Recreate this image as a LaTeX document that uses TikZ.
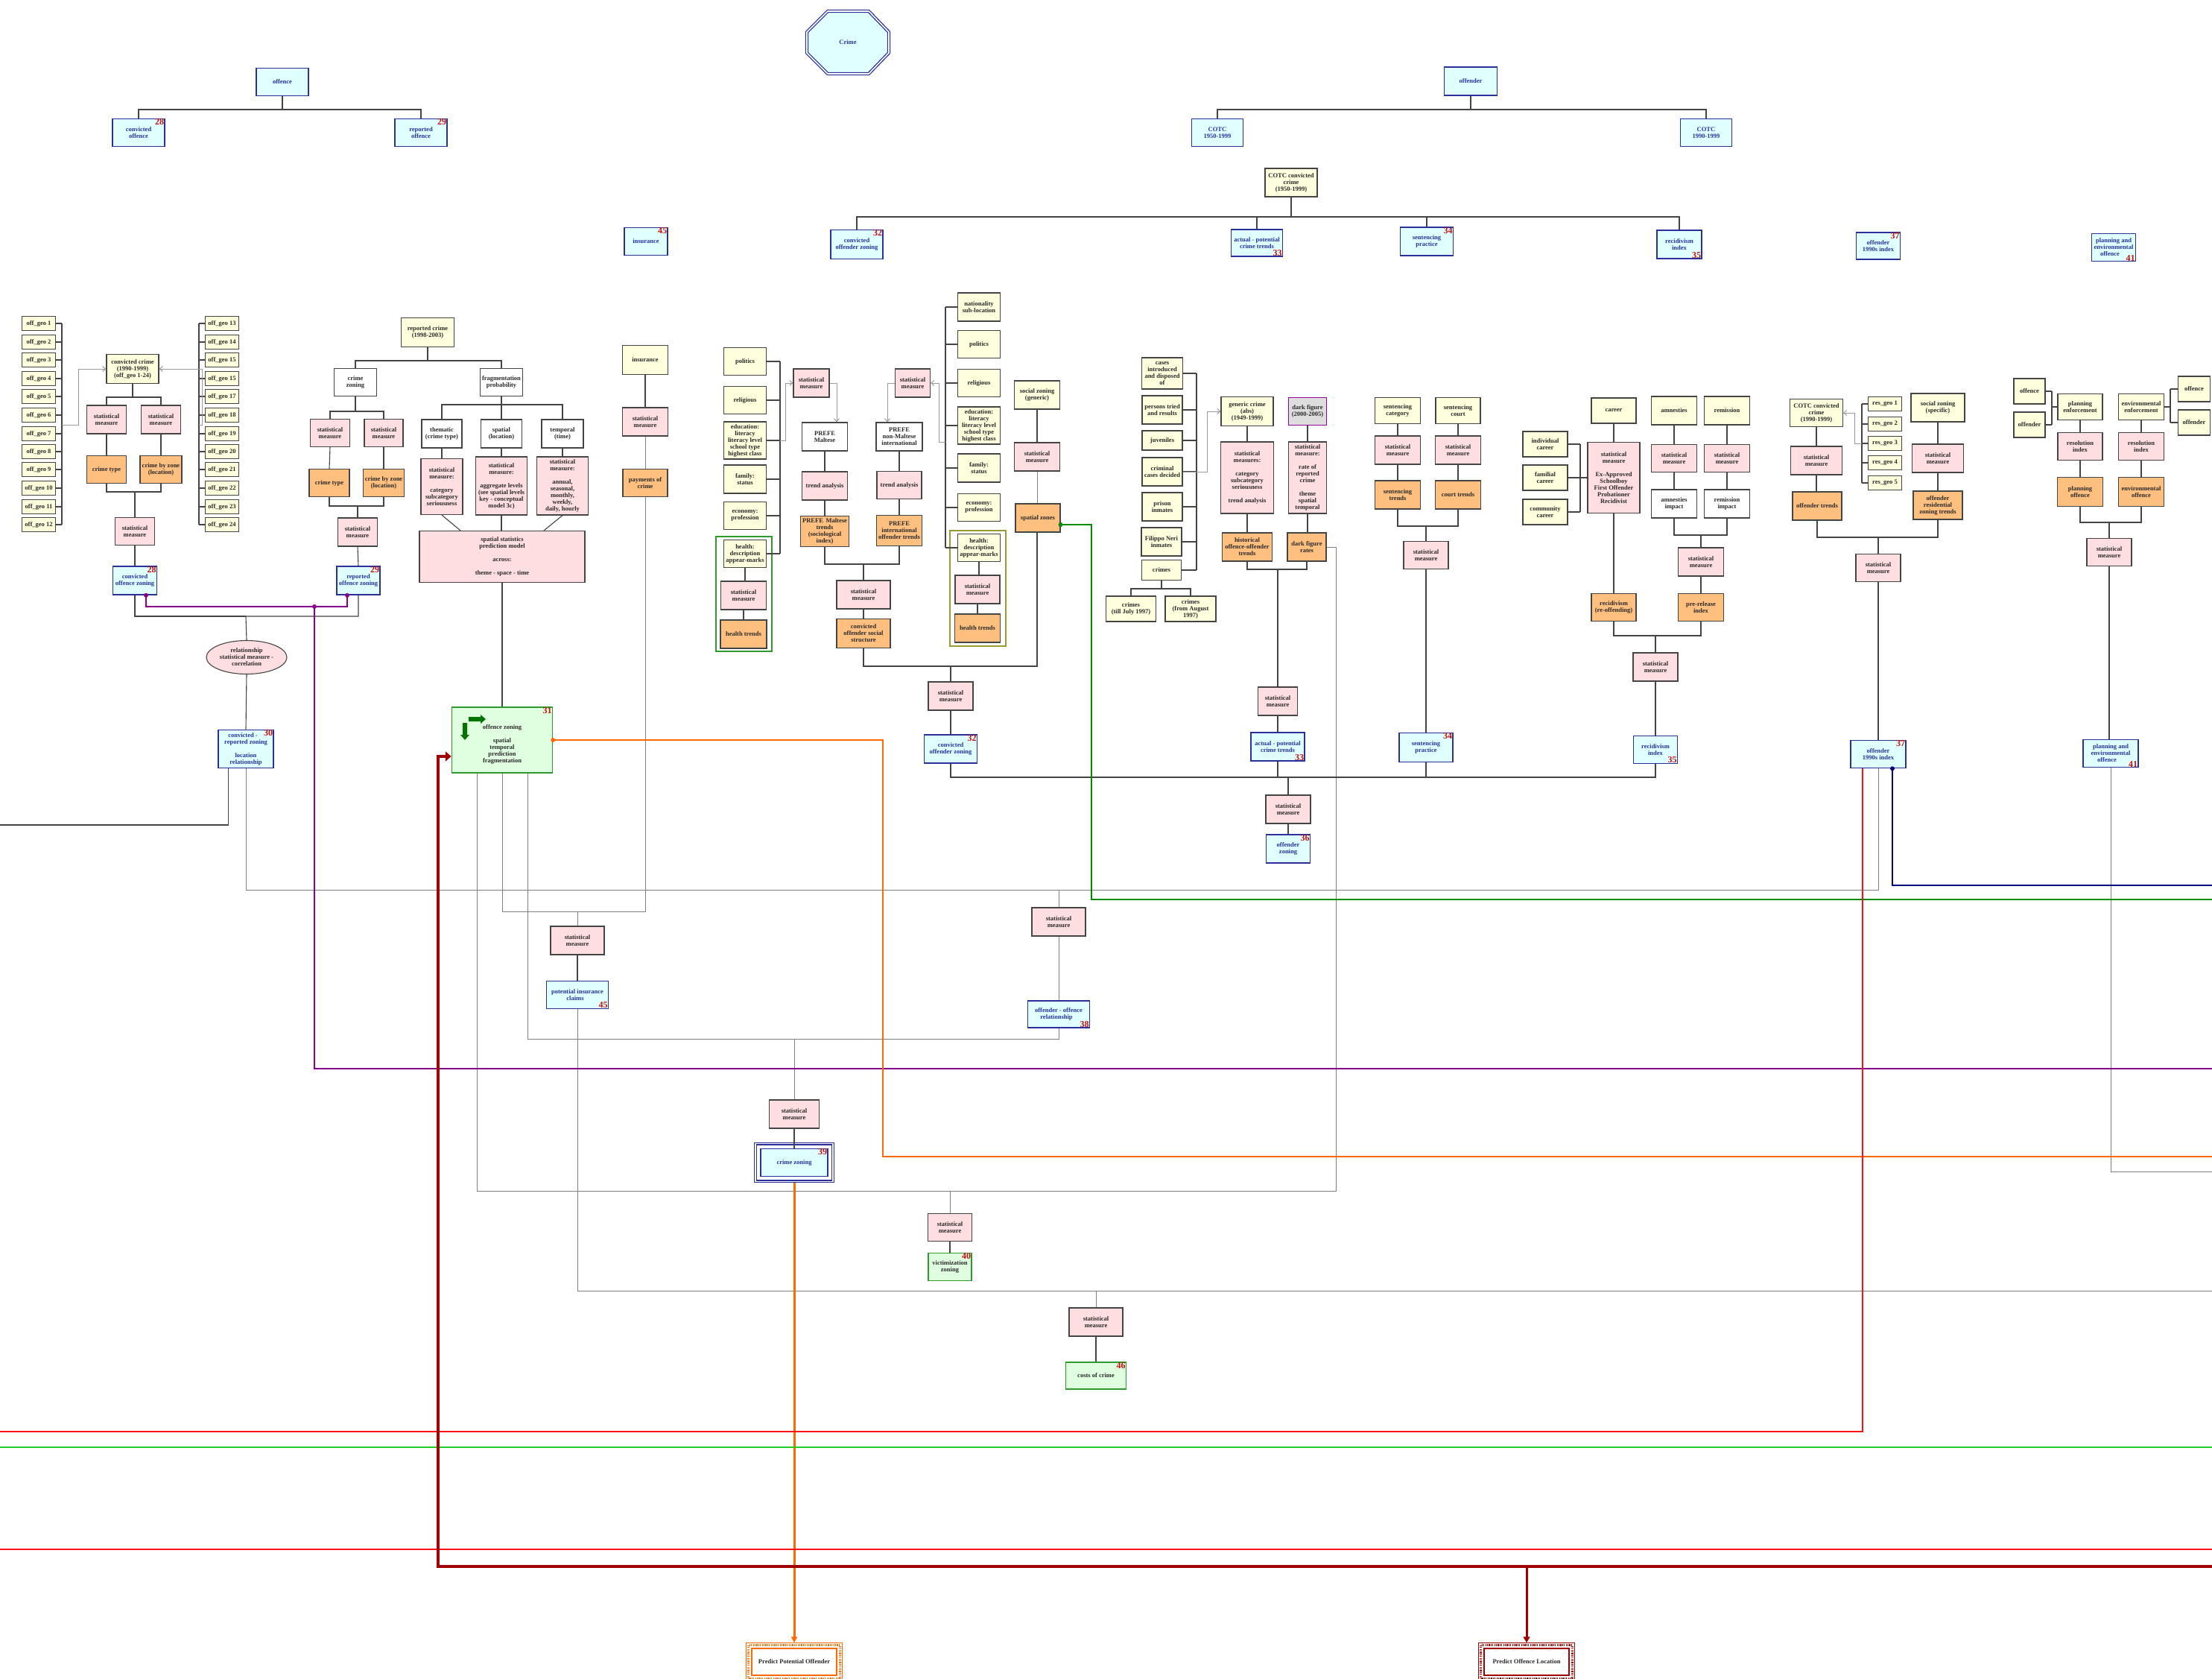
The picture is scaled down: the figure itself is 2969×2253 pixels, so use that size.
\documentclass[tikz,border=0pt]{standalone}
\usepackage{fontspec}
\setmainfont{Liberation Serif}
\usetikzlibrary{calc,arrows.meta,shapes.geometric}
\definecolor{BRD}{HTML}{444444}
\definecolor{TXT}{HTML}{2A2A2A}
\definecolor{YEL}{HTML}{FFFFDD}
\definecolor{PNK}{HTML}{FFDEE1}
\definecolor{ORGF}{HTML}{FFBF7F}
\definecolor{CYF}{HTML}{E0FFFF}
\definecolor{BLB}{HTML}{2A2F9A}
\definecolor{BLT}{HTML}{2433A0}
\definecolor{GRF}{HTML}{E0FFE0}
\definecolor{GRB}{HTML}{2E9A2E}
\definecolor{NUMC}{HTML}{C41010}
\definecolor{CON}{HTML}{444444}
\definecolor{LCON}{HTML}{808080}
\definecolor{GARR}{HTML}{9A9A9A}
\definecolor{PUR}{HTML}{8B008B}
\definecolor{GRL}{HTML}{008A00}
\definecolor{ORL}{HTML}{FF6A00}
\definecolor{DRD}{HTML}{A00000}
\definecolor{REDL}{HTML}{FF1010}
\definecolor{NAV}{HTML}{000080}
\definecolor{GRL2}{HTML}{22CC22}
\definecolor{OLV}{HTML}{9A9A33}
\definecolor{DFG}{HTML}{DDDDDD}
\definecolor{PURB}{HTML}{990099}
\newcommand\fs{\fontsize{8.5}{9}\selectfont\bfseries}
\newcommand\numfs{\fontsize{12}{12}\selectfont\bfseries}
\newcommand\stm{statistical\\measure}
\newcommand\ntr[3]{\node[num, anchor=north east, xshift=-1pt, yshift=-0.5pt] (#1) at (#2.north east) {#3};}
\newcommand\nbr[3]{\node[num, anchor=south east, xshift=-1pt, yshift=0.5pt] (#1) at (#2.south east) {#3};}
\begin{document}
\begin{tikzpicture}[x=1pt,y=-1pt,
 box/.style={draw=BRD, line width=1.2pt, align=center, font=\fs, inner sep=1pt, text=TXT},
 yel/.style={box, fill=YEL},
 pnk/.style={box, fill=PNK},
 org/.style={box, fill=ORGF},
 wht/.style={box, fill=white},
 blu/.style={box, fill=CYF, draw=BLB, line width=1.6pt, text=BLT},
 grn/.style={box, fill=GRF, draw=GRB, line width=1.5pt},
 sz/.style 2 args={minimum width=#1pt, minimum height=#2pt},
 num/.style={font=\numfs, text=NUMC, inner sep=0.5pt},
 conn/.style={draw=CON, line width=1.1pt},
 lconn/.style={draw=LCON, line width=1pt},
 garr/.style={draw=GARR, line width=1pt, -{Straight Barb[length=4pt,width=7pt]}},
]
\useasboundingbox (0,0) rectangle (2969,2253);
\fill[white] (0,0) rectangle (2969,2253);

% ---------------- top ----------------
\path[fill=CYF, draw=BLB, double=white, double distance=1.6pt, line width=1.3pt]
 (1111,15) -- (1166,15) -- (1193,43) -- (1193,71) -- (1166,99) -- (1111,99) -- (1083,71) -- (1083,43) -- cycle;
\node[font=\fs, text=BLT] (crime) at (1138,57) {Crime};

\node[blu, sz={70}{37}] (offence) at (379,110) {offence};
\node[blu, sz={70}{37}] (b28t) at (186,178) {convicted\\offence}; \ntr{n28t}{b28t}{28}
\node[blu, sz={70}{37}] (b29t) at (565,178) {reported\\offence}; \ntr{n29t}{b29t}{29}
\coordinate (jo) at (379,147);
\draw[conn] (offence.south) -- (jo) -| (b28t.north);
\draw[conn] (jo) -| (b29t.north);

\node[blu, sz={71}{38}] (offender) at (1974,109) {offender};
\node[blu, sz={69}{37}] (cotc1) at (1634,178) {COTC\\1950-1999};
\node[blu, sz={69}{37}] (cotc2) at (2290,178) {COTC\\1990-1999};
\coordinate (jof) at (1974,147);
\draw[conn] (offender.south) -- (jof) -| (cotc1.north);
\draw[conn] (jof) -| (cotc2.north);

\node[yel, sz={70}{38}] (cotcc) at (1733,245) {COTC convicted\\crime\\(1950-1999)};
\node[blu, sz={58}{37}] (b45t) at (867,324) {insurance}; \ntr{n45t}{b45t}{45}
\node[blu, sz={70}{39}] (b32t) at (1150,328) {convicted\\offender zoning}; \ntr{n32t}{b32t}{32}
\node[blu, sz={69}{36}] (b33t) at (1687,326) {actual - potential\\crime trends}; \nbr{n33t}{b33t}{33}
\node[blu, sz={71}{38}] (b34t) at (1915,324) {sentencing\\practice}; \ntr{n34t}{b34t}{34}
\node[blu, sz={60}{38}] (b35t) at (2254,328) {recidivism\\index}; \nbr{n35t}{b35t}{35}
\node[blu, sz={59}{36}] (b37t) at (2521,330) {offender\\1990s index}; \ntr{n37t}{b37t}{37}
\node[blu, sz={59}{37}] (b41t) at (2837,332) {planning and\\environmental\\offence\hspace*{10pt}}; \nbr{n41t}{b41t}{41}
\coordinate (jcc) at (1733,291);
\draw[conn] (cotcc.south) -- (jcc) -| (b32t.north);
\draw[conn] (jcc) -| (b33t.north);
\draw[conn] (jcc) -| (b34t.north);
\draw[conn] (jcc) -| (b35t.north);

% ---------------- left panel ----------------
\coordinate (lbt) at (83,434); \coordinate (lbb) at (83,704);
\coordinate (rbt) at (267,434); \coordinate (rbb) at (267,704);
\draw[conn] (lbt) -- (lbb);
\draw[conn] (rbt) -- (rbb);
\foreach \i/\y in {1/434,2/459,3/483,4/508,5/532,6/557,7/582,8/606,9/630,10/655,11/680,12/704}{
 \node[yel, sz={45}{19}] (og\i) at (52,\y) {off\_geo \i};
 \draw[conn] (og\i.east) -- (og\i.east -| lbt);
}
\foreach \i/\y/\l in {13/434/13,14/459/14,15/483/15,16/508/15,17/532/17,18/557/18,19/582/19,20/606/20,21/630/21,22/655/22,23/680/23,24/704/24}{
 \node[yel, sz={45}{19}] (og\i) at (298,\y) {off\_geo \l};
 \draw[conn] (og\i.west) -- (og\i.west -| rbt);
}
\node[yel, sz={70}{39}] (cc) at (178,495) {convicted crime\\(1990-1999)\\(off\_geo 1-24)};
\coordinate (la1) at (83,570); \coordinate (ra1) at (267,570);
\draw[garr] (la1) -| ($(cc.west)+(-37,0)$) -- (cc.west);
\draw[garr] (ra1) -| ($(cc.east)+(58,0)$) -- (cc.east);
\node[pnk, sz={53}{38}] (sm1) at (143,563) {\stm};
\node[pnk, sz={53}{38}] (sm2) at (216,563) {\stm};
\node[org, sz={53}{37}] (ct1) at (143,630) {crime type};
\node[org, sz={56}{37}] (cz1) at (216,630) {crime by zone\\(location)};
\node[pnk, sz={53}{37}] (sm3) at (181,713) {\stm};
\node[blu, sz={59}{38}] (b28l) at (181,779) {convicted\\offence zoning}; \ntr{n28l}{b28l}{28}
\coordinate (j1) at (178,533);
\draw[conn] (cc.south) -- (j1) -| (sm1.north);
\draw[conn] (j1) -| (sm2.north);
\draw[conn] (sm1.south) -- (ct1.north);
\draw[conn] (sm2.south) -- (cz1.north);
\coordinate (j2) at (181,660);
\draw[conn] (ct1.south) |- (j2);
\draw[conn] (cz1.south) |- (j2) -- (sm3.north);
\draw[conn] (sm3.south) -- (b28l.north);

% reported crime
\node[yel, sz={71}{39}] (rc) at (574,446) {reported crime\\(1998-2003)};
\node[wht, sz={57}{37}] (czn) at (477,513) {crime\\zoning};
\node[wht, sz={57}{37}] (fp) at (673,513) {fragmentation\\probability};
\coordinate (j3) at (574,484);
\draw[conn] (rc.south) -- (j3) -| (czn.north);
\draw[conn] (j3) -| (fp.north);
\node[pnk, sz={53}{37}] (sm4) at (443,581) {\stm};
\node[pnk, sz={52}{37}] (sm5) at (515,581) {\stm};
\node[org, sz={54}{37}] (ct2) at (442,648) {crime type};
\node[org, sz={55}{37}] (cz2) at (515,648) {crime by zone\\(location)};
\node[pnk, sz={53}{38}] (sm6) at (480,714) {\stm};
\node[blu, sz={58}{38}] (b29l) at (481,779) {reported\\offence zoning}; \ntr{n29l}{b29l}{29}
\coordinate (j4) at (477,552);
\draw[conn] (czn.south) -- (j4) -| (sm4.north);
\draw[conn] (j4) -| (sm5.north);
\draw[conn] (sm4.south) -- (ct2.north);
\draw[conn] (sm5.south) -- (cz2.north);
\coordinate (j5) at (480,679);
\draw[conn] (ct2.south) |- (j5);
\draw[conn] (cz2.south) |- (j5) -- (sm6.north);
\draw[conn] (sm6.south) -- (b29l.north);

\node[wht, sz={54}{38}] (th) at (593,582) {thematic\\(crime type)};
\node[wht, sz={55}{38}] (sp) at (673,582) {spatial\\(location)};
\node[wht, sz={56}{38}] (tp) at (755,582) {temporal\\(time)};
\coordinate (j6) at (673,543);
\draw[conn] (fp.south) -- (j6) -| (th.north);
\draw[conn] (j6) -- (sp.north);
\draw[conn] (j6) -| (tp.north);
\node[pnk, sz={56}{75}] (smth) at (593,653) {statistical\\measure:\\[9pt]category\\subcategory\\seriousness};
\node[pnk, sz={69}{78}] (smsp) at (673,652) {statistical\\measure:\\[9pt]aggregate levels\\(see spatial levels\\key - conceptual\\model 3c)};
\node[pnk, sz={69}{78}] (smtp) at (755,652) {statistical\\measure:\\[9pt]annual,\\seasonal,\\monthly,\\weekly,\\daily, hourly};
\draw[conn] (th.south) -- (smth.north);
\draw[conn] (sp.south) -- (smsp.north);
\draw[conn] (tp.south) -- (smtp.north);
\node[pnk, sz={222}{69}] (ssm) at (674,747) {spatial statistics\\prediction model\\[9pt]across:\\[9pt]theme - space - time};
\draw[conn] (smth.south) -- ($(ssm.north)+(-56,0)$);
\draw[conn] (smsp.south) -- (smsp.south |- ssm.north);
\draw[conn] (smtp.south) -- ($(ssm.north)+(56,0)$);

\node[yel, sz={61}{39}] (iy) at (866,483) {insurance};
\node[pnk, sz={61}{38}] (ism) at (866,566) {\stm};
\node[org, sz={60}{37}] (pay) at (866,648) {payments of\\crime};
\draw[conn] (iy.south) -- (ism.north);
\draw[lconn] (ism.south) -- (pay.north);

% ---------------- social groups ----------------
\node[yel, sz={57}{37}] (pl1) at (1000,485) {politics};
\node[yel, sz={57}{37}] (rl1) at (1000,537) {religious};
\node[yel, sz={57}{50}] (ed1) at (1000,591) {education:\\literacy\\literacy level\\school type\\highest class};
\node[yel, sz={57}{38}] (fa1) at (1000,643) {family:\\status};
\node[yel, sz={57}{37}] (ec1) at (1000,692) {economy:\\profession};
\node[yel, sz={57}{37}] (he1) at (1000,743) {health:\\description\\appear-marks};
\node[pnk, sz={61}{38}] (hsm1) at (998,799) {\stm};
\node[org, sz={62}{38}] (ht1) at (998,851) {health trends};
\draw[GRB, line width=1.5pt] (961,720) rectangle (1036,874);
\draw[conn] (he1.south) -- (he1.south |- hsm1.north);
\draw[conn] (hsm1.south) -- (ht1.north);
\coordinate (eb1t) at (1047,485); \coordinate (eb1b) at (1047,743);
\draw[conn] (eb1t) -- (eb1b);
\foreach \n in {pl1,rl1,ed1,fa1,ec1,he1}{\draw[conn] (\n.east) -- (\n.east -| eb1t);}
\node[pnk, sz={48}{38}] (smL) at (1089,514) {\stm};
\node[wht, sz={61}{38}] (pm) at (1107,586) {PREFE\\Maltese};
\node[pnk, sz={61}{38}] (ta1) at (1107,652) {trend analysis};
\node[org, sz={65}{41}] (pmt) at (1107,713) {PREFE\, Maltese\\trends\\(sociological\\index)};
\draw[garr] (ed1.east -| eb1t) -| ($(smL.west)+(-10,0)$) -- (smL.west);
\draw[garr] (smL.east) -| ($(pm.north)+(16,0)$);
\draw[conn] (pm.south) -- (ta1.north);
\draw[conn] (ta1.south) -- (pmt.north);

\node[pnk, sz={47}{38}] (smR) at (1225,514) {\stm};
\node[wht, sz={62}{38}] (pn) at (1207,586) {PREFE\\non-Maltese\\international};
\node[pnk, sz={60}{37}] (ta2) at (1207,651) {trend analysis};
\node[org, sz={61}{41}] (pit) at (1207,712) {PREFE\\international\\offender trends};
\draw[garr] (smR.west) -| ($(pn.north)+(-16,0)$);
\draw[conn] (pn.south) -- (ta2.north);
\draw[conn] (ta2.south) -- (pit.north);

\node[pnk, sz={72}{38}] (sm7) at (1159,798) {\stm};
\node[org, sz={72}{39}] (cos) at (1159,850) {convicted\\offender social\\structure};
\coordinate (j22) at (1159,757);
\draw[conn] (pmt.south) |- (j22);
\draw[conn] (pit.south) |- (j22) -- (sm7.north);
\draw[conn] (sm7.south) -- (cos.north);

\node[yel, sz={57}{38}] (nat) at (1314,412) {nationality\\sub-location};
\node[yel, sz={57}{37}] (pl2) at (1314,462) {politics};
\node[yel, sz={57}{37}] (rl2) at (1314,514) {religious};
\node[yel, sz={57}{50}] (ed2) at (1314,571) {education:\\literacy\\literacy level\\school type\\highest class};
\node[yel, sz={57}{38}] (fa2) at (1314,628) {family:\\status};
\node[yel, sz={57}{37}] (ec2) at (1314,681) {economy:\\profession};
\node[yel, sz={57}{37}] (he2) at (1314,735) {health:\\description\\appear-marks};
\node[pnk, sz={60}{38}] (hsm2) at (1312,791) {\stm};
\node[org, sz={61}{38}] (ht2) at (1312,843) {health trends};
\draw[OLV, line width=1.5pt] (1275,712) rectangle (1350,867);
\draw[conn] (he2.south) -- (he2.south |- hsm2.north);
\draw[conn] (hsm2.south) -- (ht2.north);
\coordinate (eb2t) at (1269,412); \coordinate (eb2b) at (1269,735);
\draw[conn] (eb2t) -- (eb2b);
\foreach \n in {nat,pl2,rl2,ed2,fa2,ec2,he2}{\draw[conn] (\n.west) -- (\n.west -| eb2t);}
\draw[garr] ($(ed2.west -| eb2t)+(0,22)$) -| ($(smR.east)+(11,0)$) -- (smR.east);

\node[yel, sz={61}{38}] (sgz) at (1392,530) {social zoning\\(generic)};
\node[pnk, sz={61}{38}] (sm9) at (1392,613) {\stm};
\node[org, sz={60}{38}] (sz) at (1393,695) {spatial zones};
\draw[conn] (sgz.south) -- (sm9.north);
\draw[lconn] (sm9.south) -- (sm9.south |- sz.north);

\node[pnk, sz={60}{38}] (sm8) at (1276,934) {\stm};
\node[blu, sz={71}{38}] (b32l) at (1276,1005) {convicted\\offender zoning}; \ntr{n32l}{b32l}{32}
\coordinate (j13) at (1276,894);
\draw[conn] (cos.south) |- (j13);
\draw[conn] (sz.south -| sm9.south) |- (j13) -- (sm8.north);
\draw[conn] (sm8.south) -- (b32l.north);

% ---------------- courts ----------------
\node[yel, sz={55}{42}] (ci) at (1560,501) {cases\\introduced\\and disposed\\of};
\node[yel, sz={54}{38}] (pt) at (1560,550) {persons tried\\and results};
\node[yel, sz={54}{26}] (juv) at (1560,591) {juveniles};
\node[yel, sz={54}{38}] (ccd) at (1560,633) {criminal\\cases decided};
\node[yel, sz={54}{38}] (pri) at (1560,680) {prison\\inmates};
\node[yel, sz={54}{38}] (fni) at (1559,727) {Filippo Neri\\inmates};
\node[yel, sz={53}{27}] (cri) at (1559,765) {crimes};
\coordinate (cbt) at (1606,501); \coordinate (cbb) at (1606,765);
\draw[conn] (cbt) -- (cbb);
\foreach \n in {ci,pt,juv,ccd,pri,fni,cri}{\draw[conn] (\n.east) -- (\n.east -| cbt);}
\node[yel, sz={67}{34}] (cr1) at (1518,817) {crimes\\(till July 1997)};
\node[yel, sz={68}{34}] (cr2) at (1598,817) {crimes\\(from August\\1997)};
\coordinate (j15) at (1559,790);
\draw[conn] (cri.south) -- (j15) -| (cr1.north);
\draw[conn] (j15) -| (cr2.north);

\node[yel, sz={70}{39}] (gc) at (1674,552) {generic crime\\(abs)\\(1949-1999)};
\node[box, fill=DFG, draw=PURB, line width=1.6pt, sz={51}{37}] (dfg) at (1755,552) {dark figure\\(2000-2005)};
\draw[garr] (ccd.east) -| ($(gc.west)+(-18,0)$) -- (gc.west);
\node[pnk, sz={71}{96}] (smg) at (1674,641) {statistical\\measures:\\[9pt]category\\subcategory\\seriousness\\[9pt]trend analysis};
\node[pnk, sz={51}{96}] (smd) at (1755,641) {statistical\\measure:\\[9pt]rate of\\reported\\crime\\[9pt]theme\\spatial\\temporal};
\node[org, sz={67}{38}] (hot) at (1674,734) {historical\\offence-offender\\trends};
\node[org, sz={52}{38}] (dfr) at (1754,734) {dark figure\\rates};
\draw[conn] (gc.south) -- (smg.north);
\draw[conn] (smg.south) -- (hot.north);
\draw[conn] (dfg.south) -- (smd.north);
\draw[conn] (smd.south) -- (smd.south |- dfr.north);
\node[pnk, sz={53}{38}] (sm10) at (1715,941) {\stm};
\node[blu, sz={72}{38}] (b33l) at (1715,1002) {actual - potential\\crime trends}; \nbr{n33l}{b33l}{33}
\coordinate (j16) at (1715,764);
\draw[conn] (hot.south) |- (j16);
\draw[conn] (dfr.south) |- (j16) -- (sm10.north);
\draw[conn] (sm10.south) -- (b33l.north);

% ---------------- sentencing ----------------
\node[yel, sz={61}{35}] (sc) at (1876,551) {sentencing\\category};
\node[yel, sz={60}{35}] (scc) at (1957,551) {sentencing\\court};
\node[pnk, sz={61}{38}] (sm11) at (1876,604) {\stm};
\node[pnk, sz={61}{38}] (sm12) at (1957,604) {\stm};
\node[org, sz={61}{38}] (st) at (1876,664) {sentencing\\trends};
\node[org, sz={61}{38}] (ctr) at (1957,664) {court trends};
\draw[conn] (sc.south) -- (sm11.north);
\draw[conn] (sm11.south) -- (st.north);
\draw[conn] (scc.south) -- (sm12.north);
\draw[conn] (sm12.south) -- (ctr.north);
\node[pnk, sz={60}{37}] (sm13) at (1914,745) {\stm};
\node[blu, sz={72}{39}] (b34l) at (1914,1003) {sentencing\\practice}; \ntr{n34l}{b34l}{34}
\coordinate (j17) at (1914,706);
\draw[conn] (st.south) |- (j17);
\draw[conn] (ctr.south) |- (j17) -- (sm13.north);
\draw[conn] (sm13.south) -- (b34l.north);

% ---------------- recidivism ----------------
\node[yel, sz={60}{34}] (car) at (2166,551) {career};
\node[yel, sz={61}{38}] (amn) at (2247,551) {amnesties};
\node[yel, sz={61}{38}] (rem) at (2318,551) {remission};
\node[yel, sz={60}{34}] (ic) at (2074,596) {individual\\career};
\node[yel, sz={60}{34}] (fc) at (2074,641) {familial\\career};
\node[yel, sz={60}{34}] (cmc) at (2074,687) {community\\career};
\node[pnk, sz={70}{95}] (smx) at (2166,641) {statistical\\measure\\[9pt]Ex-Approved\\Schoolboy\\First Offender\\Probationer\\Recidivist};
\coordinate (rbt2) at (2121,596); \coordinate (rbb2) at (2121,687);
\draw[conn] (rbt2) -- (rbb2);
\foreach \n in {ic,fc,cmc}{\draw[conn] (\n.east) -- (\n.east -| rbt2);}
\draw[conn] (fc.east -| rbt2) -- (smx.west);
\draw[conn] (car.south) -- (smx.north);
\node[org, sz={60}{37}] (rec) at (2166,815) {recidivism\\(re-offending)};
\draw[conn] (smx.south) -- (rec.north);
\node[pnk, sz={61}{37}] (sm14) at (2247,615) {\stm};
\node[pnk, sz={61}{37}] (sm15) at (2318,615) {\stm};
\node[wht, sz={61}{38}] (ai) at (2247,676) {amnesties\\impact};
\node[wht, sz={61}{38}] (ri) at (2318,676) {remission\\impact};
\draw[conn] (amn.south) -- (sm14.north);
\draw[conn] (sm14.south) -- (ai.north);
\draw[conn] (rem.south) -- (sm15.north);
\draw[conn] (sm15.south) -- (ri.north);
\node[pnk, sz={61}{38}] (sm16) at (2283,754) {\stm};
\node[org, sz={61}{37}] (prl) at (2283,815) {pre-release\\index};
\coordinate (j18) at (2283,718);
\draw[conn] (ai.south) |- (j18);
\draw[conn] (ri.south) |- (j18) -- (sm16.north);
\draw[conn] (sm16.south) -- (prl.north);
\node[pnk, sz={60}{38}] (sm17) at (2222,895) {\stm};
\node[blu, sz={59}{37}] (b35l) at (2222,1006) {recidivism\\index}; \nbr{n35l}{b35l}{35}
\coordinate (j19) at (2222,853);
\draw[conn] (rec.south) |- (j19);
\draw[conn] (prl.south) |- (j19) -- (sm17.north);
\draw[conn] (sm17.south) -- (b35l.north);

% ---------------- offender residential ----------------
\node[yel, sz={71}{37}] (cotc) at (2438,554) {COTC convicted\\crime\\(1990-1999)};
\coordinate (rbt3) at (2499,542); \coordinate (rbb3) at (2499,648);
\draw[conn] (rbt3) -- (rbb3);
\foreach \i/\y in {1/542,2/569,3/595,4/621,5/648}{
 \node[yel, sz={45}{19}] (rg\i) at (2530,\y) {res\_geo \i};
 \draw[conn] (rg\i.west) -- (rg\i.west -| rbt3);
}
\draw[garr] (rg3.west -| rbt3) -| ($(cotc.east)+(15,0)$) -- (cotc.east);
\node[pnk, sz={69}{38}] (sm18) at (2438,618) {\stm};
\node[org, sz={66}{38}] (ot) at (2439,679) {offender trends};
\draw[conn] (cotc.south) -- (sm18.north);
\draw[conn] (sm18.south) -- (sm18.south |- ot.north);
\node[yel, sz={72}{38}] (ssz) at (2601,547) {social zoning\\(specific)};
\node[pnk, sz={69}{38}] (sm19) at (2601,615) {\stm};
\node[org, sz={66}{38}] (orz) at (2601,678) {offender\\residential\\zoning trends};
\draw[conn] (ssz.south) -- (sm19.north);
\draw[conn] (sm19.south) -- (orz.north);
\node[pnk, sz={60}{37}] (sm20) at (2521,762) {\stm};
\node[blu, sz={74}{37}] (b37l) at (2521,1012) {offender\\1990s index}; \ntr{n37l}{b37l}{37}
\coordinate (j20) at (2521,721);
\draw[conn] (ot.south) |- (j20);
\draw[conn] (orz.south) |- (j20) -- (sm20.north);
\draw[conn] (sm20.south) -- (b37l.north);

% ---------------- planning ----------------
\node[yel, sz={42}{34}] (of1) at (2724,525) {offence};
\node[yel, sz={42}{34}] (of2) at (2724,570) {offender};
\node[yel, sz={60}{35}] (pe) at (2792,546) {planning\\enforcement};
\node[yel, sz={61}{35}] (ee) at (2874,546) {environmental\\enforcement};
\node[yel, sz={43}{34}] (of3) at (2945,522) {offence};
\node[yel, sz={43}{34}] (of4) at (2945,567) {offender};
\coordinate (pbt) at (2754,525); \coordinate (pbb) at (2754,570);
\draw[conn] (pbt) -- (pbb);
\draw[conn] (of1.east) -- (of1.east -| pbt);
\draw[conn] (of2.east) -- (of2.east -| pbt);
\draw[conn] (pe.west -| pbt) -- (pe.west);
\coordinate (qbt) at (2913,522); \coordinate (qbb) at (2913,567);
\draw[conn] (qbt) -- (qbb);
\draw[conn] (of3.west) -- (of3.west -| qbt);
\draw[conn] (of4.west) -- (of4.west -| qbt);
\draw[conn] (ee.east) -- (ee.east -| qbt);
\node[pnk, sz={60}{37}] (ri1) at (2792,599) {resolution\\index};
\node[pnk, sz={61}{37}] (ri2) at (2874,599) {resolution\\index};
\node[org, sz={61}{39}] (po) at (2792,660) {planning\\offence};
\node[org, sz={61}{39}] (eo) at (2874,660) {environmental\\offence};
\draw[conn] (pe.south) -- (ri1.north);
\draw[conn] (ri1.south) -- (po.north);
\draw[conn] (ee.south) -- (ri2.north);
\draw[conn] (ri2.south) -- (eo.north);
\node[pnk, sz={60}{37}] (sm21) at (2831,741) {\stm};
\node[blu, sz={74}{37}] (b41l) at (2833,1011) {planning and\\environmental\\offence\hspace*{10pt}}; \nbr{n41l}{b41l}{41}
\coordinate (j21) at (2831,701);
\draw[conn] (po.south) |- (j21);
\draw[conn] (eo.south) |- (j21) -- (sm21.north);
\draw[conn] (sm21.south) -- (sm21.south |- b41l.north);

% ---------------- lower middle ----------------
\node[ellipse, draw=BRD, line width=1.1pt, fill=PNK, font=\fs, text=TXT, align=center, inner sep=0pt, minimum width=108pt, minimum height=45pt] (el) at (331,882) {relationship\\statistical measure -\\correlation};
\node[blu, sz={74}{51}] (b30) at (330,1005) {convicted -\hspace*{8pt}\\reported zoning\\[9pt]location\\relationship}; \ntr{n30}{b30}{30}
\coordinate (j11) at (330,827);
\draw[conn] (b28l.south) |- (j11);
\draw[conn] (b29l.south) |- (j11) -- (el.north);
\draw[conn] (el.south) -- (b30.north);
\coordinate (l1107) at (0,1107);
\draw[conn] ($(b30.south west)+(14,0)$) |- (l1107);

\node[grn, sz={135}{88}] (b31) at (674,993) {}; \ntr{n31}{b31}{31}
\node[font=\fs, text=TXT, align=center, inner sep=0pt] (b31t) at (674,999) {offence zoning\\[9pt]spatial\\temporal\\prediction\\fragmentation};
\fill[green!45!black] (629,962) -- (645,962) -- (645,959) -- (652,965) -- (645,971) -- (645,968) -- (629,968) -- cycle;
\fill[green!45!black] (621,970) -- (627,970) -- (627,986) -- (630,986) -- (624,993) -- (618,986) -- (621,986) -- cycle;
\draw[conn] (ssm.south) -- (ssm.south |- b31.north);

\node[pnk, sz={72}{38}] (sm22) at (775,1262) {\stm};
\node[blu, sz={83}{37}] (b45l) at (775,1335) {potential insurance\\claims\hspace*{6pt}}; \nbr{n45l}{b45l}{45}
\coordinate (j7) at (775,1223);
\draw[lconn] (pay.south) |- (j7);
\draw[lconn] (b31.south) |- (j7) -- (sm22.north);
\draw[conn] (sm22.south) -- (b45l.north);

\node[pnk, sz={72}{38}] (sm26) at (1421,1237) {\stm};
\node[blu, sz={83}{36}] (b38) at (1421,1361) {offender - offence\\relationship\hspace*{6pt}}; \nbr{n38}{b38}{38}
\coordinate (j12) at (1421,1194);
\draw[lconn] (b30.south) |- (j12) -| (b37l.south);
\draw[lconn] (j12) -- (sm26.north);
\draw[lconn] (sm26.south) -- (b38.north);

\node[pnk, sz={67}{38}] (sm25) at (1066,1495) {\stm};
\node[blu, sz={90}{37}] (b39) at (1066,1560) {crime zoning}; \ntr{n39}{b39}{39}
\draw[BLB, line width=1.3pt, double=white, double distance=1.5pt] ($(b39.south west)+(-6,6)$) rectangle ($(b39.north east)+(6,-6)$);
\coordinate (j9) at (1066,1394);
\draw[lconn] ($(b31.south)+(34,0)$) |- (j9) -| (b38.south);
\draw[lconn] (j9) -- (sm25.north);
\draw[conn] (sm25.south) -- (b39.north);

\node[pnk, sz={59}{37}] (sm24) at (1275,1647) {\stm};
\node[grn, sz={58}{37}] (v40) at (1275,1700) {victimization\\zoning}; \ntr{n40}{v40}{40}
\coordinate (dfx) at (1793,1598); \coordinate (j8) at (1275,1598);
\draw[lconn] ($(b31.south)+(-34,0)$) |- (dfx) |- (dfr.east);
\draw[lconn] (j8) -- (sm24.north);
\draw[conn] (sm24.south) -- (v40.north);

\node[pnk, sz={72}{38}] (sm23) at (1471,1774) {\stm};
\node[grn, sz={81}{36}] (c46) at (1471,1846) {costs of crime}; \ntr{n46}{c46}{46}
\coordinate (j10) at (1471,1732); \coordinate (r1732) at (2969,1732);
\draw[lconn] (b45l.south) |- (r1732);
\draw[lconn] (j10) -- (sm23.north);
\draw[conn] (sm23.south) -- (c46.north);

\node[pnk, sz={60}{38}] (sm27) at (1729,1086) {\stm};
\node[blu, sz={59}{38}] (b36) at (1729,1139) {offender\\zoning}; \ntr{n36}{b36}{36}
\coordinate (j14) at (1729,1043);
\draw[conn] (b32l.south) |- (j14);
\draw[conn] (b33l.south) |- (j14);
\draw[conn] (b34l.south) |- (j14);
\draw[conn] (b35l.south) |- (j14);
\draw[conn] (j14) -- (sm27.north);
\draw[conn] (sm27.south) -- (b36.north);

\coordinate (r1572) at (2969,1572);
\draw[lconn] (b41l.south) |- (r1572);

% ---------------- predict boxes ----------------
\node[wht, draw=ORL, line width=1.5pt, sz={114}{36}] (ppo) at (1066,2230) {Predict Potential Offender};
\draw[ORL, line width=3pt, dash pattern=on 1.2pt off 1.2pt] ($(ppo.south west)+(-3.5,3.5)$) rectangle ($(ppo.north east)+(3.5,-3.5)$);
\draw[ORL, line width=1pt] ($(ppo.south west)+(-6.5,6.5)$) rectangle ($(ppo.north east)+(6.5,-6.5)$);
\node[wht, draw=DRD, line width=1.5pt, sz={114}{36}] (pol) at (2049,2230) {Predict Offence Location};
\draw[DRD, line width=3pt, dash pattern=on 1.2pt off 1.2pt] ($(pol.south west)+(-3.5,3.5)$) rectangle ($(pol.north east)+(3.5,-3.5)$);
\draw[DRD, line width=1pt] ($(pol.south west)+(-6.5,6.5)$) rectangle ($(pol.north east)+(6.5,-6.5)$);

% ---------------- coloured connectors ----------------
\coordinate (p28) at ($(b28l.south)+(15,0)$);
\coordinate (p29) at ($(b29l.south)+(-15,0)$);
\coordinate (pj) at (422,814);
\coordinate (rpur) at (2969,1434);
\draw[PUR, line width=2.5pt] (p28) |- (pj) -| (p29);
\draw[PUR, line width=2.5pt] (pj) |- (rpur);
\fill[PUR] (p28) circle (3pt) (p29) circle (3pt) (pj) circle (3pt);

\coordinate (szd) at ($(sz.east)+(0,9)$);
\coordinate (gx) at (1465,1207); \coordinate (rgr) at (2969,1207);
\draw[GRL, line width=2.5pt] (szd) -| (gx) -- (rgr);
\fill[GRL] (szd) circle (3pt);

\coordinate (ox) at (1185,1552); \coordinate (ror) at (2969,1552);
\draw[ORL, line width=2.5pt] (b31.east) -| (ox) -- (ror);
\fill[ORL] (b31.east) circle (3pt);
\draw[ORL, line width=3pt, -{Triangle[length=8pt,width=8pt]}] ($(b39.south)+(0,8)$) -- ($(ppo.north)+(0,-7)$);

\coordinate (nv) at ($(b37l.south)+(19,0)$); \coordinate (rnv) at (2969,1188);
\draw[NAV, line width=2.5pt] (nv) |- (rnv);
\fill[NAV] (nv) circle (3pt);

\coordinate (rl0) at (0,1921);
\draw[REDL, line width=2pt] (rl0) -| ($(b37l.south)+(-21,0)$);
\coordinate (gl0) at (0,1942); \coordinate (gl1) at (2969,1942);
\draw[GRL2, line width=2pt] (gl0) -- (gl1);
\coordinate (rr0) at (0,2079); \coordinate (rr1) at (2969,2079);
\draw[REDL, line width=2.2pt] (rr0) -- (rr1);

\coordinate (dr1) at (2969,2102); \coordinate (dr2) at (588,2102); \coordinate (dr3) at (2049,2102);
\draw[DRD, line width=3.5pt, -{Triangle[length=8pt,width=13pt]}] (dr1) -- (dr2) |- ($(b31.west)+(0,22)$);
\draw[DRD, line width=3pt, -{Triangle[length=8pt,width=9pt]}] (dr3) -- ($(pol.north)+(0,-7)$);
\end{tikzpicture}
\end{document}
